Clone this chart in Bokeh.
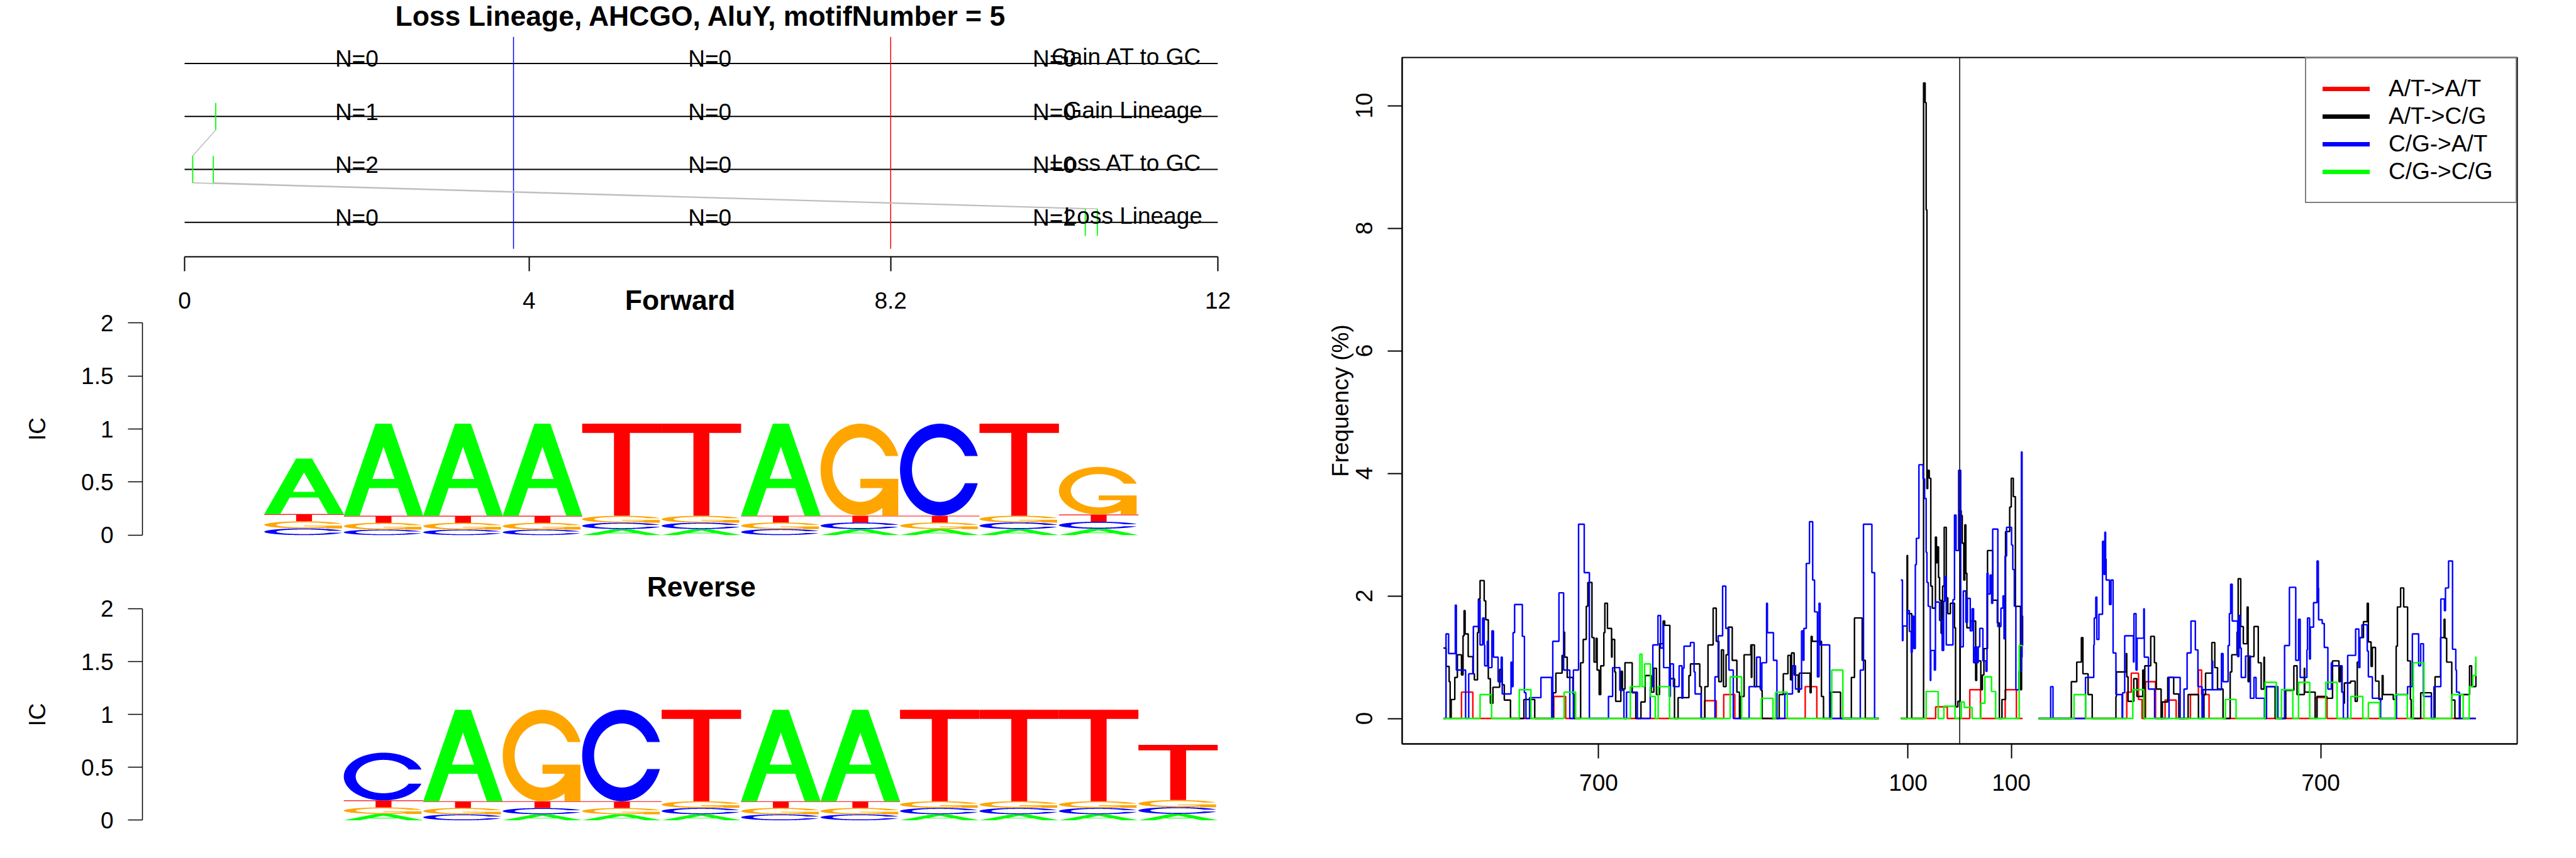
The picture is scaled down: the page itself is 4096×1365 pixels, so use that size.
import numpy as np
from bokeh.plotting import figure
from bokeh.models import Range1d, FixedTicker, Span, Legend, LegendItem, LinearAxis
from bokeh.layouts import row, column
from bokeh.embed import file_html
from bokeh.resources import INLINE
from bokeh.core.properties import value

FONT = "Liberation Sans"
FS = "37px"
TFS = "44.5px"
NAN = float("nan")

# ---------------- top panel data ----------------
title_text = "Loss Lineage, AHCGO, AluY, motifNumber = 5"
row_labels = ["Gain AT to GC", "Gain Lineage", "Loss AT to GC", "Loss Lineage"]
row_level = [4, 3, 2, 1]
interval_ticks = [0, 4, 8.2, 12]
interval_tick_labels = ["0", "4", "8.2", "12"]
n_counts = [[0, 0, 0], [1, 0, 0], [2, 0, 0], [0, 0, 2]]
boundary_pos = [3.82, 8.2]
boundary_col = ["#0000FF", "#FF0000"]
site_row = ["Gain Lineage", "Loss AT to GC", "Loss AT to GC", "Loss Lineage", "Loss Lineage"]
site_pos = [0.362, 0.094, 0.334, 10.46, 10.60]
link_from_row = ["Gain Lineage", "Loss AT to GC", "Loss AT to GC"]
link_from_pos = [0.362, 0.094, 0.334]
link_to_row = ["Loss AT to GC", "Loss Lineage", "Loss Lineage"]
link_to_pos = [0.094, 10.46, 10.60]

# ---------------- sequence logos (information content per base) ----------------
fwd_pos = list(range(1, 12))
fwd_A = [0.523, 0.868, 0.868, 0.868, 0.057, 0.057, 0.867, 0.057, 0.057, 0.057, 0.060]
fwd_C = [0.063, 0.052, 0.052, 0.052, 0.060, 0.060, 0.057, 0.062, 0.867, 0.062, 0.066]
fwd_G = [0.067, 0.064, 0.064, 0.064, 0.065, 0.065, 0.062, 0.867, 0.062, 0.064, 0.449]
fwd_T = [0.068, 0.066, 0.066, 0.066, 0.868, 0.868, 0.064, 0.064, 0.064, 0.867, 0.068]
rev_pos = list(range(2, 13))
rev_A = [0.060, 0.865, 0.057, 0.057, 0.057, 0.865, 0.865, 0.057, 0.057, 0.057, 0.060]
rev_C = [0.451, 0.056, 0.059, 0.865, 0.060, 0.056, 0.056, 0.060, 0.060, 0.060, 0.064]
rev_G = [0.062, 0.061, 0.865, 0.059, 0.063, 0.061, 0.061, 0.063, 0.063, 0.063, 0.067]
rev_T = [0.066, 0.063, 0.064, 0.064, 0.865, 0.063, 0.063, 0.865, 0.865, 0.865, 0.522]
ic_ticks = [0, 0.5, 1, 1.5, 2]
ic_tick_labels = ["0", "0.5", "1", "1.5", "2"]
base_colors = {"A": "#00FF00", "C": "#0000FF", "G": "#FFA500", "T": "#FF0000"}

# ---------------- right panel: frequency (%) step series ----------------
freq_x_ticks = [-700, -100, 100, 700]
freq_x_tick_labels = ["700", "100", "100", "700"]
freq_y_ticks = [0, 2, 4, 6, 8, 10]
legend_labels = ["A/T->A/T", "A/T->C/G", "C/G->A/T", "C/G->C/G"]
series_colors = ["#FF0000", "#000000", "#0000FF", "#00FF00"]

red_left = [(-1001, 0), (-966, 0.43), (-944, 0), (-787, 0.36), (-764, 0), (-494.5, 0.29), (-472, 0),
            (-457.5, 0.39), (-436, 0), (-299.5, 0.52), (-277, 0), (-157, 0)]
red_mid = [(-114, 0), (-46.6, 0.19), (-24, 0), (19.6, 0.47), (40.3, 0), (88.3, 0.47), (110, 0), (122, 0)]
red_right = [(153, 0), (324, 0.43), (332.7, 0.74), (346.8, 0.31), (353.6, 0), (360.4, 0.60), (379.8, 0),
             (398.3, 0.30), (419.8, 0), (447.5, 0.39), (462.9, 0.79), (469.1, 0.39), (483.6, 0),
             (689.3, 0.34), (712.4, 0), (1001, 0)]

black_left = [(-1001, 1.15), (-996, 0.85), (-990, 0.60), (-988, 0), (-986, 0.31), (-979, 0.67), (-974, 1.04),
              (-966, 0.71), (-963, 1.35), (-961, 1.76), (-959, 1.38), (-953, 1.01), (-944, 0.73), (-941, 0.63),
              (-935, 1.40), (-933, 1.95), (-930, 2.25), (-922, 1.92), (-919, 1.61), (-914, 0.65), (-910, 0.25),
              (-905, 0.51), (-892, 0.80), (-887, 0.55), (-883, 0.30), (-871, 0), (-845, 0.31), (-824, 0),
              (-788, 0.42), (-783, 0.74), (-771, 1.03), (-767, 1.41), (-766, 1.00), (-761, 0.67), (-750, 0.40),
              (-748, 0), (-735, 0.91), (-730, 1.29), (-724, 1.83), (-721, 2.22), (-713, 1.32), (-709, 0.92),
              (-705, 1.31), (-703, 0.79), (-699, 0.39), (-696, 0.86), (-690, 1.40), (-688, 1.88), (-683, 1.47),
              (-675, 1.00), (-674, 1.29), (-669, 0.76), (-667, 0.28), (-657, 0.77), (-654, 0.48), (-649, 0.91),
              (-635, 0.42), (-628, 0), (-618, 0.27), (-610, 0.70), (-598, 0.43), (-593, 0.82), (-588, 0.39),
              (-582, 1.22), (-575, 1.59), (-572, 1.52), (-562, 0.65), (-553, 0), (-546, 0.34), (-525, 0.70),
              (-522, 0.89), (-504, 0.52), (-501, 0), (-494, 0.52), (-488, 1.20), (-478, 1.80), (-472, 1.26),
              (-467, 0.60), (-462, 1.12), (-458, 0.52), (-453, 1.04), (-449, 1.49), (-441, 0.95), (-432, 0.43),
              (-427, 0), (-425, 0.36), (-418, 1.04), (-405, 1.20), (-404, 0.67), (-403, 1.20), (-398, 0.52),
              (-385, 0.46), (-383, 0), (-350, 0.39), (-342, 0.73), (-333, 1.03), (-328, 0.63), (-326, 1.07),
              (-321, 0.71), (-313, 0.43), (-311, 0.74), (-290, 0.42), (-288, 1.34), (-286, 1.26), (-268, 0.36),
              (-264, 0), (-250, 0.43), (-231, 0), (-210, 0.67), (-204, 1.64), (-189, 0.95), (-183, 0), (-157, 0)]
black_mid = [(-114, 0), (-102, 2.66), (-101, 1.71), (-93, 0), (-70, 10.37), (-67, 10.05), (-65, 8.3),
             (-63.5, 3.75), (-62, 4.05), (-59, 3.92), (-56, 2.16), (-53, 1.80), (-47, 2.96), (-45, 2.54),
             (-43, 2.80), (-41, 2.30), (-39, 1.93), (-36, 1.39), (-33, 2.16), (-30, 3.12), (-26, 1.97),
             (-23, 1.71), (-18, 1.88), (-10, 1.48), (-8, 0.19), (-3.5, 0.28), (1, 3.39), (3, 3.31), (5, 2.86),
             (8, 2.26), (10, 3.16), (12, 2.37), (14, 1.48), (21, 1.59), (31, 0.62), (33, 0.94), (41, 0.47),
             (44, 0.71), (47, 1.14), (54, 2.74), (64, 1.93), (73, 1.56), (77, 0), (82, 0.31), (89, 3.05),
             (97, 3.45), (100, 3.92), (104, 3.62), (108, 1.83), (118, 0.47), (120, 1.67), (122, 1.19)]
black_right = [(153, 0), (216.5, 0.60), (227, 0.92), (236, 1.32), (239, 0.73), (249, 0.39), (257, 0),
               (303, 0.36), (304, 0.76), (323, 1.06), (324, 0.68), (326.5, 0.28), (337.6, 0.65), (343.7, 0.36),
               (355, 0.79), (357, 0), (359, 0.86), (370.5, 1.34), (377.6, 0.91), (381.3, 0.48), (390.6, 0),
               (393, 0.27), (403.5, 0.67), (415, 0.40), (425, 0), (443, 0.39), (463, 0), (473.7, 0.39),
               (476.8, 0.74), (489, 1.24), (494.7, 0.83), (500, 0.48), (510.7, 0), (524.5, 0.76), (527.6, 1.04),
               (537.8, 1.41), (540, 2.28), (545, 1.50), (550, 1.22), (557.5, 1.82), (559.3, 0.60), (561.5, 1.01),
               (570.7, 1.50), (579, 0.91), (584.6, 0.48), (590, 1.00), (591, 0.52), (611.7, 0), (632.3, 0.46),
               (648, 0.86), (654.2, 0.39), (668.3, 0.82), (669, 0.43), (689.3, 0), (693, 0.36), (712, 0.33),
               (723, 0.94), (735.5, 0.60), (738, 0.86), (741, 0.43), (744.7, 0.25), (746, 0.58), (758, 0.61),
               (766.9, 0.28), (770.9, 0.92), (775.5, 1.32), (783, 1.58), (790.3, 1.88), (792.5, 1.25),
               (797.7, 0.85), (800.2, 1.16), (806.3, 0.61), (813, 0.31), (819.3, 0.70), (821, 0.39),
               (840.8, 0.31), (846.4, 1.18), (848.8, 1.82), (855, 2.13), (861, 1.82), (868.5, 0.94), (874, 0.31),
               (875.6, 0), (894, 0.42), (914.7, 0), (921.8, 0.68), (932.6, 1.32), (939.4, 1.62), (941, 1.31),
               (944.3, 0.92), (954.2, 0.30), (960.3, 0), (970.2, 0.39), (988.7, 0.86), (992.7, 0.52), (1001, 0.91)]

blue_left = [(-1001, 0), (-996, 1.38), (-991, 1.06), (-978, 1.85), (-976, 0.79), (-958, 0), (-952, 0.73),
             (-943, 1.50), (-933, 1.93), (-930, 1.20), (-925, 1.64), (-922, 1.20), (-921, 0.86), (-916, 1.26),
             (-914, 0.83), (-907, 1.43), (-904, 1.00), (-895, 0.60), (-889, 1.00), (-887, 0.40), (-870, 0.92),
             (-868, 0.52), (-866, 1.40), (-863, 1.86), (-848, 1.34), (-844, 0.42), (-841, 0), (-834, 0.34),
             (-812, 0.67), (-791, 0), (-789, 1.26), (-777, 2.05), (-768, 0.79), (-756, 0), (-749, 0.79),
             (-739, 3.17), (-728, 2.38), (-718, 0), (-681, 0.36), (-673, 0.83), (-659, 0.46), (-651, 0),
             (-646, 0.43), (-625, 0), (-600, 0.52), (-595, 1.20), (-585, 1.68), (-580, 1.15), (-575, 1.52),
             (-574, 0.83), (-563, 0.36), (-561, 0.89), (-555, 0.52), (-544, 0.86), (-538.5, 0.33),
             (-536.7, 0.82), (-534.5, 1.18), (-522, 1.24), (-515, 0.76), (-513, 0.40), (-501.6, 0),
             (-474.5, 0.68), (-468.3, 1.35), (-459.7, 2.16), (-453.5, 1.47), (-447.4, 0.79), (-439, 0),
             (-408.3, 0.52), (-393.8, 1.00), (-386.7, 0.48), (-383.6, 0.91), (-374.4, 1.88), (-372.8, 1.40),
             (-361.1, 0.95), (-354.4, 0), (-339, 0.40), (-324.2, 0.86), (-318.3, 0.48), (-306.6, 1.43),
             (-303.5, 0.95), (-302, 1.47), (-297.4, 2.53), (-291.2, 3.21), (-285, 2.26), (-281.4, 1.74),
             (-275.8, 0.68), (-272.7, 1.88), (-270.6, 1.20), (-252.1, 0), (-192.7, 0.79), (-186.5, 3.17),
             (-170.2, 2.38), (-165, 0), (-157, 0)]
blue_mid = [(-114, 2.26), (-111, 1.27), (-110, 1.51), (-102, 1.76), (-97.5, 1.42), (-94, 1.08), (-92, 1.67),
            (-89, 1.14), (-86, 2.51), (-84, 2.94), (-79, 4.14), (-71, 3.91), (-68, 3.59), (-65, 2.71),
            (-63.5, 2.22), (-61, 1.83), (-57, 0.62), (-56, 1.11), (-49, 0.79), (-47, 1.90), (-39, 1.60),
            (-34, 1.11), (-31, 1.91), (-29, 2.31), (-26, 1.20), (-13, 1.94), (-10, 3.32), (-7, 2.74), (-2, 4.05),
            (2, 1.17), (7, 2.08), (12, 1.57), (15, 1.96), (20.5, 1.43), (24, 1.79), (27, 0.91), (30, 1.17),
            (33, 0.91), (36, 1.17), (39, 1.47), (45, 0.94), (51, 0.77), (53, 2.37), (55, 2.03), (59, 2.34),
            (62, 1.88), (64, 3.09), (74, 1.50), (80, 1.80), (84, 2.00), (86, 1.30), (88, 2.65), (91, 3.12),
            (100.6, 2.83), (103, 2.43), (106, 1.83), (109, 0.47), (115, 0.77), (119.7, 4.35), (121, 1.00),
            (122, 1.00)]
blue_right = [(153, 0), (176.5, 0.52), (181, 0), (244, 0.67), (260, 1.20), (261, 1.64), (264, 1.98),
              (266, 1.29), (270, 1.70), (277, 2.89), (280, 2.35), (281.5, 3.04), (283, 2.60), (284, 2.26),
              (290.5, 1.86), (293.5, 2.26), (297.5, 1.07), (303, 0.39), (315, 0), (316, 0.42), (320, 1.35),
              (337, 0.92), (338, 1.71), (342, 0.79), (344, 1.31), (357, 1.79), (358, 1.00), (366, 0.48),
              (378, 0), (406, 0.67), (427.5, 0), (435, 0.48), (441, 1.07), (448.5, 1.59), (457, 1.12),
              (462, 0.52), (470, 0), (472, 0.47), (489.7, 0.94), (490.5, 0.47), (507.6, 1.06), (510.7, 0.60),
              (520.5, 1.19), (523, 1.71), (525.5, 2.19), (528.5, 1.59), (539, 1.01), (541.5, 1.68), (544, 1.15),
              (546, 0.67), (554.4, 1.02), (563.7, 0.33), (570.7, 0.67), (574.7, 0.33), (591, 0), (595, 0.52),
              (617, 0), (630, 1.19), (639.4, 2.14), (651.7, 0.95), (657.2, 1.62), (660.3, 0.67), (673.3, 1.12),
              (674.5, 1.64), (678.5, 0.97), (680, 1.49), (686.2, 1.89), (693, 2.57), (695.4, 2.13), (696, 1.61),
              (703, 1.55), (707, 1.16), (714, 0.48), (720.7, 0.91), (722, 0.86), (741.6, 0.43), (744, 0),
              (752.4, 1.03), (767.8, 1.46), (774, 0.83), (776, 1.32), (780, 1.53), (790.3, 1.10), (792.5, 0.68),
              (800.2, 0.33), (816.2, 0), (847, 0.39), (868.5, 0.52), (877.8, 1.38), (890, 0.86), (894, 1.22),
              (899.3, 0.36), (914.7, 0), (919.7, 0.52), (933, 1.95), (940, 1.76), (942, 2.13), (948, 2.57),
              (955.7, 1.13), (962, 0.79), (963.4, 0.43), (969, 0), (1001, 0)]

green_left = [(-1001, 0), (-930, 0.39), (-907.6, 0), (-854, 0.47), (-831.4, 0), (-767, 0.43), (-744.7, 0),
              (-638.6, 0.52), (-620, 1.05), (-616, 0.52), (-611, 0.89), (-599.6, 0.36), (-590.3, 0),
              (-584.6, 0.52), (-562.5, 0), (-445, 0.68), (-422.7, 0), (-384.5, 0.33), (-362, 0),
              (-356.8, 0.43), (-334.3, 0), (-248, 0.79), (-226.5, 0), (-157, 0)]
green_mid = [(-114, 0), (-65, 0.44), (-41.7, 0), (-30.6, 0.20), (-9, 0), (3.3, 0.27), (8.8, 0.18), (24.2, 0),
             (41.2, 0.25), (48.9, 0.68), (61.8, 0.44), (69.8, 0), (115.4, 1.19), (122, 1.19)]
green_right = [(153, 0), (221.8, 0.39), (244.3, 0), (335.7, 0.47), (357.3, 0), (515.3, 0.31), (536, 0),
               (592.3, 0.59), (614, 0), (624, 0.47), (646, 0), (657, 0.59), (678.8, 0), (710, 0.59),
               (731.8, 0), (758.6, 0.36), (781.7, 0), (792.5, 0.26), (814.3, 0), (844.8, 0.39), (868, 0),
               (879.6, 0.91), (900.3, 0), (954.2, 0.39), (976.3, 0), (988, 0.52), (995, 0.70), (1001, 1.01)]

series = [[red_left, red_mid, red_right],
          [black_left, black_mid, black_right],
          [blue_left, blue_mid, blue_right],
          [green_left, green_mid, green_right]]


# ---------------- helpers ----------------
def c_ring():
    a1 = np.linspace(0.3 + np.pi / 2, np.pi, 100)
    a2 = np.linspace(np.pi, 1.5 * np.pi, 100)
    xl1 = 0.5 + 0.5 * np.sin(a1); yl1 = 0.5 + 0.5 * np.cos(a1)
    xl2 = 0.5 + 0.5 * np.sin(a2); yl2 = 0.5 + 0.5 * np.cos(a2)
    xl = np.concatenate([xl1, xl2]); yl = np.concatenate([yl1, yl2])
    x = np.concatenate([xl, xl[::-1]]); y = np.concatenate([yl, 1 - yl[::-1]])
    xi1 = 0.5 + 0.35 * np.sin(a1); yi1 = 0.5 + 0.35 * np.cos(a1)
    keep = yi1 <= yl1.max()
    xi1 = xi1[keep]; yi1 = yi1[keep].copy(); yi1[0] = yl1.max()
    xi2 = 0.5 + 0.35 * np.sin(a2); yi2 = 0.5 + 0.35 * np.cos(a2)
    xi = np.concatenate([xi1, xi2]); yi = np.concatenate([yi1, yi2])
    x1 = np.concatenate([xi, xi[::-1]]); y1 = np.concatenate([yi, 1 - yi[::-1]])
    return np.concatenate([x, x1[::-1]]), np.concatenate([y, y1[::-1]]), xl1.max()


def letter_polys(ch):
    if ch == "A":
        return [[([0, 0.4, 0.6, 1, 0.8, 0.68, 0.32, 0.2, 0], [0, 1, 1, 0, 0, 0.3, 0.3, 0, 0]),
                 ([0.36, 0.5, 0.64, 0.36], [0.4, 0.75, 0.4, 0.4])]]
    if ch == "T":
        return [[([0, 1, 1, 0.6, 0.6, 0.4, 0.4, 0], [1, 1, 0.9, 0.9, 0, 0, 0.9, 0.9])]]
    cx, cy, r1 = c_ring()
    polys = [[(list(cx), list(cy))]]
    if ch == "G":
        h1 = 0.4
        polys.append([([r1, 0.5, 0.5, r1 - 0.2, r1 - 0.2, r1, r1], [h1, h1, h1 - 0.1, h1 - 0.1, 0, 0, h1])])
    return polys


def draw_logo(p, positions, hA, hC, hG, hT):
    xs, ys, cols = [], [], []
    for i, pos in enumerate(positions):
        hts = {"A": hA[i], "C": hC[i], "G": hG[i], "T": hT[i]}
        base = 0.0
        for ch in sorted(hts, key=lambda k: hts[k]):
            h = hts[ch]
            # each piece of a letter is its own glyph so that overlapping pieces stay filled
            for poly in letter_polys(ch):
                xs.append([[[pos - 0.5 + float(u) for u in rx] for rx, ry in poly]])
                ys.append([[[base + float(v) * h for v in ry] for rx, ry in poly]])
                cols.append(base_colors[ch])
            base += h
    p.multi_polygons(xs=xs, ys=ys, fill_color=cols, line_color=None)


def style_axis(ax):
    ax.major_label_text_font = FONT
    ax.major_label_text_font_size = FS
    ax.major_label_text_color = "black"
    ax.axis_label_text_font = FONT
    ax.axis_label_text_font_size = FS
    ax.axis_label_text_font_style = "normal"
    ax.axis_label_text_color = "black"
    ax.major_tick_in = 0
    ax.major_tick_out = 23
    ax.minor_tick_in = 0
    ax.minor_tick_out = 0
    ax.axis_line_color = "black"
    ax.major_tick_line_color = "black"


def base_fig(**kw):
    p = figure(output_backend="svg", toolbar_location=None, **kw)
    p.background_fill_color = "white"
    p.border_fill_color = "white"
    p.xgrid.visible = False
    p.ygrid.visible = False
    p.outline_line_color = None
    return p


# ---------------- shared horizontal geometry of the left column ----------------
COL_W = 2047
FRAME_LEFT = 226          # frame left edge (logo IC axis)
FRAME_RIGHT_BORDER = 111
ZERO_X = 293              # pixel where the lineage scale starts (x = 0)
px_per_unit = (COL_W - FRAME_RIGHT_BORDER - ZERO_X) / (interval_ticks[-1] - interval_ticks[0])
lineage_range = Range1d(interval_ticks[0] - (ZERO_X - FRAME_LEFT) / px_per_unit, interval_ticks[-1])

# ---------------- Figure A: lineage panel (axis line + tick marks) ----------------
A = base_fig(width=COL_W, height=445, x_range=lineage_range, y_range=Range1d(0.349, 5.193),
             y_axis_location=None, min_border_left=FRAME_LEFT, min_border_right=FRAME_RIGHT_BORDER,
             min_border_top=0, min_border_bottom=37)
ax = A.xaxis[0]
style_axis(ax)
ax.ticker = FixedTicker(ticks=interval_ticks, minor_ticks=[])
ax.bounds = (interval_ticks[0], interval_ticks[-1])
ax.major_label_text_font_size = "0px"
ax.major_label_text_color = None
ax.major_label_standoff = 0
ax.axis_line_width = 2
ax.major_tick_line_width = 2

lev = dict(zip(row_labels, row_level))
A.segment(x0=[interval_ticks[0]] * 4, y0=row_level, x1=[interval_ticks[-1]] * 4, y1=row_level,
          line_color="black", line_width=2)
A.segment(x0=boundary_pos, y0=[0.5, 0.5], x1=boundary_pos, y1=[4.5, 4.5], line_color=boundary_col,
          line_width=1.5)
A.segment(x0=link_from_pos, y0=[lev[r] - 0.255 for r in link_from_row],
          x1=link_to_pos, y1=[lev[r] + 0.255 for r in link_to_row], line_color="#BEBEBE", line_width=1.6)
A.segment(x0=site_pos, y0=[lev[r] - 0.255 for r in site_row], x1=site_pos,
          y1=[lev[r] + 0.255 for r in site_row], line_color="#00FF00", line_width=1.8)

mids = [(interval_ticks[k] + interval_ticks[k + 1]) / 2 for k in range(3)]
nx, ny, nt = [], [], []
for r, counts in enumerate(n_counts):
    for k, c in enumerate(counts):
        nx.append(mids[k]); ny.append(row_level[r] + 0.083); nt.append("N=%d" % c)
A.text(x=nx, y=ny, text=nt, text_font=value(FONT), text_font_size=value(FS), text_align=value("center"),
       text_baseline=value("alphabetic"), text_color="black")
A.text(x=[11.82] * 4, y=[v + 0.12 for v in row_level], text=row_labels, text_font=value(FONT),
       text_font_size=value(FS), text_align=value("right"), text_baseline=value("alphabetic"),
       text_color="black")
A.text(x=[6], y=[4.896], text=[title_text], text_font=value(FONT), text_font_size=value(TFS),
       text_font_style=value("bold"), text_align=value("center"), text_baseline=value("middle"),
       text_color="black")


# ---------------- Figures B / C: logos ----------------
def logo_fig(height, yr, top, bottom):
    p = base_fig(width=COL_W, height=height, x_range=Range1d(-1.034, 12.5), y_range=Range1d(*yr),
                 x_axis_location=None, min_border_left=FRAME_LEFT, min_border_right=FRAME_RIGHT_BORDER,
                 min_border_top=top, min_border_bottom=bottom)
    ya = p.yaxis[0]
    style_axis(ya)
    ya.ticker = FixedTicker(ticks=ic_ticks, minor_ticks=[])
    ya.major_label_overrides = dict(zip(ic_ticks, ic_tick_labels))
    ya.bounds = (0, 2)
    ya.major_label_standoff = 23
    ya.axis_line_width = 1.5
    ya.major_tick_line_width = 1.5
    ya.axis_label = "IC"
    ya.axis_label_standoff = 46
    return p


B = logo_fig(449, (-0.0486, 2.0486), 60, 35)
# tick labels of the lineage scale and the "Forward" heading, shown in the band above the logo
B.extra_x_ranges = {"lineage": lineage_range}
top_axis = LinearAxis(x_range_name="lineage")
style_axis(top_axis)
top_axis.ticker = FixedTicker(ticks=interval_ticks, minor_ticks=[])
top_axis.major_label_overrides = dict(zip(interval_ticks, interval_tick_labels))
top_axis.major_tick_out = 0
top_axis.axis_line_color = None
top_axis.major_tick_line_color = None
top_axis.major_label_standoff = 15
top_axis.axis_label = "Forward"
top_axis.axis_label_text_font_size = TFS
top_axis.axis_label_text_font_style = "bold"
top_axis.axis_label_standoff = -40
B.add_layout(top_axis, "above")
draw_logo(B, fwd_pos, fwd_A, fwd_C, fwd_G, fwd_T)

C = logo_fig(471, (-0.3596, 2.3566), 14, 0)
draw_logo(C, rev_pos, rev_A, rev_C, rev_G, rev_T)
C.text(x=[6], y=[2.208], text=["Reverse"], text_font=value(FONT), text_font_size=value(TFS),
       text_font_style=value("bold"), text_align=value("center"), text_baseline=value("middle"),
       text_color="black")

# ---------------- Figure D: frequency panel ----------------
all_x = [x for s in series for seg in s for x, _ in seg]
all_y = [y for s in series for seg in s for _, y in seg]
xmin, xmax = min(all_x), max(all_x)
ymin, ymax = 0.0, max(all_y)
xpad, ypad = 0.04 * (xmax - xmin), 0.04 * (ymax - ymin)
D = base_fig(width=2049, height=1365, x_range=Range1d(xmin - xpad, xmax + xpad),
             y_range=Range1d(ymin - ypad, ymax + ypad), min_border_left=182, min_border_right=94,
             min_border_top=91, min_border_bottom=182)
D.outline_line_color = "black"
D.outline_line_width = 2
xa = D.xaxis[0]
style_axis(xa)
xa.ticker = FixedTicker(ticks=freq_x_ticks, minor_ticks=[])
xa.major_label_overrides = dict(zip(freq_x_ticks, freq_x_tick_labels))
xa.major_label_standoff = 25
xa.axis_line_width = 2
xa.major_tick_line_width = 2
ya = D.yaxis[0]
style_axis(ya)
ya.ticker = FixedTicker(ticks=freq_y_ticks, minor_ticks=[])
ya.major_label_overrides = {t: str(t) for t in freq_y_ticks}
ya.major_label_orientation = "parallel"
ya.major_label_standoff = 24
ya.axis_line_width = 2
ya.major_tick_line_width = 2
ya.axis_label = "Frequency (%)"
ya.axis_label_standoff = 2

for segs, col in zip(series, series_colors):
    for seg in segs:
        sx = [x for x, _ in seg]
        sy = [y for _, y in seg]
        D.step(x=sx, y=sy, mode="after", line_color=col, line_width=2.4)

D.add_layout(Span(location=0, dimension="height", line_color="black", line_width=1.5))

items = []
for lab, col in zip(legend_labels, series_colors):
    r = D.line(x=[NAN], y=[NAN], line_color=col, line_width=7, line_cap="round")
    items.append(LegendItem(label=lab, renderers=[r]))
legend = Legend(items=items, location="top_right", margin=0, padding=26, spacing=0, glyph_width=75,
                glyph_height=44, label_height=44, label_standoff=30, label_width=176,
                label_text_font=FONT, label_text_font_size=FS, label_text_color="black",
                border_line_color="black", border_line_width=2, background_fill_color="white",
                background_fill_alpha=1.0)
D.add_layout(legend)

layout = row(column(A, B, C), D)
open("out.html", "w").write(file_html(layout, INLINE, title="plot"))
